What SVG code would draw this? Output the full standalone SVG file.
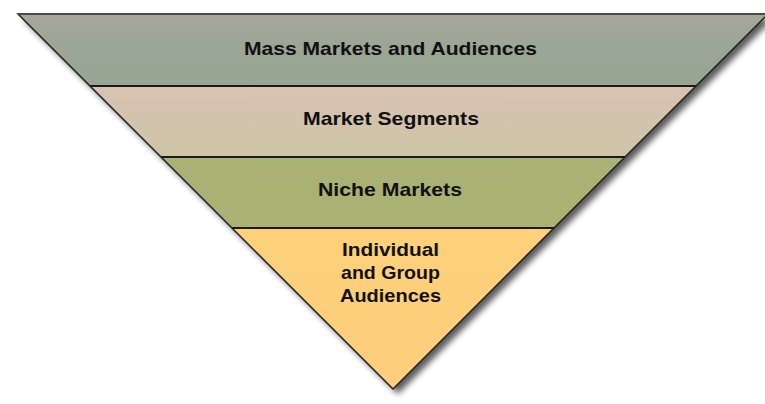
<svg xmlns="http://www.w3.org/2000/svg" width="765" height="404" viewBox="0 0 765 404">
  <defs>
    <linearGradient id="g1" x1="0" y1="0" x2="0" y2="1">
      <stop offset="0" stop-color="#a8a69c"/>
      <stop offset="0.45" stop-color="#9ba696"/>
      <stop offset="1" stop-color="#98a592"/>
    </linearGradient>
    <linearGradient id="g2" x1="0" y1="0" x2="0" y2="1">
      <stop offset="0" stop-color="#d8c2b1"/>
      <stop offset="1" stop-color="#cdc5a8"/>
    </linearGradient>
    <linearGradient id="g3" x1="0" y1="0" x2="0" y2="1">
      <stop offset="0" stop-color="#a8b274"/>
      <stop offset="1" stop-color="#abb273"/>
    </linearGradient>
    <linearGradient id="g4" x1="0" y1="0" x2="0" y2="1">
      <stop offset="0" stop-color="#fdd07a"/>
      <stop offset="1" stop-color="#fcce7c"/>
    </linearGradient>
    <filter id="shadow" x="-10%" y="-10%" width="120%" height="125%">
      <feGaussianBlur in="SourceAlpha" stdDeviation="3"/>
      <feOffset dx="5" dy="5" result="b"/>
      <feComponentTransfer><feFuncA type="linear" slope="0.65"/></feComponentTransfer>
    </filter>
  </defs>
  <style>
    .lbl { font-family: "Liberation Sans", Arial, sans-serif; font-weight: bold; font-size: 19px; fill: #111; text-anchor: middle; }
    .div { stroke: #1a1a1a; stroke-width: 2; fill: none; }
  </style>
  <rect width="765" height="404" fill="#ffffff"/>
  <polygon points="18,14 768,14 393,389" fill="#000" filter="url(#shadow)"/>
  <g id="band1">
    <polygon points="18,14 768,14 696,86 90,86" fill="url(#g1)"/>
    <text class="lbl" x="390.5" y="55" textLength="293" lengthAdjust="spacingAndGlyphs">Mass Markets and Audiences</text>
  </g>
  <g id="band2">
    <polygon points="90,86 696,86 625,157 161,157" fill="url(#g2)"/>
    <text class="lbl" x="391" y="125" textLength="176" lengthAdjust="spacingAndGlyphs">Market Segments</text>
  </g>
  <g id="band3">
    <polygon points="161,157 625,157 554,228 232,228" fill="url(#g3)"/>
    <text class="lbl" x="390" y="196" textLength="144" lengthAdjust="spacingAndGlyphs">Niche Markets</text>
  </g>
  <g id="band4">
    <polygon points="232,228 554,228 393,389" fill="url(#g4)"/>
    <text class="lbl" x="390.5" y="256" textLength="97" lengthAdjust="spacingAndGlyphs">Individual</text>
    <text class="lbl" x="390.5" y="279" textLength="99" lengthAdjust="spacingAndGlyphs">and Group</text>
    <text class="lbl" x="390.5" y="302" textLength="101" lengthAdjust="spacingAndGlyphs">Audiences</text>
  </g>
  <g id="lines">
    <line class="div" x1="90" y1="86" x2="696" y2="86"/>
    <line class="div" x1="161" y1="157" x2="625" y2="157"/>
    <line class="div" x1="232" y1="228" x2="554" y2="228"/>
    <polygon points="18,14 768,14 393,389" fill="none" stroke="#222" stroke-width="1.5" stroke-linejoin="miter"/>
    <line x1="18" y1="14" x2="765" y2="14" stroke="#4a4a46" stroke-width="2"/>
  </g>
</svg>
